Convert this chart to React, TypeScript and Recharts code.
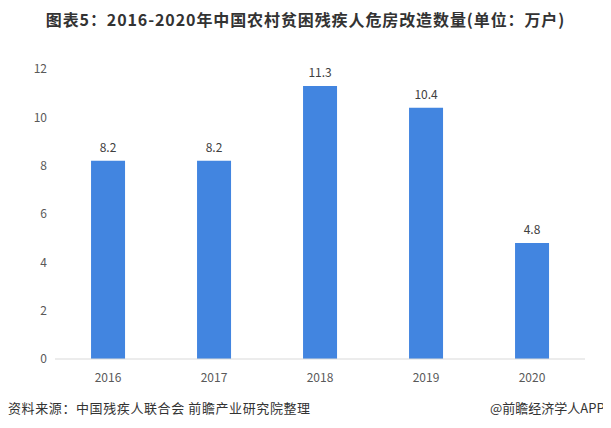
import { BarChart, Bar, XAxis, YAxis, LabelList } from "recharts";

const years = ["2016", "2017", "2018", "2019", "2020"];
const households = [8.2, 8.2, 11.3, 10.4, 4.8];
const yTicks = [0, 2, 4, 6, 8, 10, 12];

const data = years.map((year, i) => ({ year, value: households[i] }));

const FONT = '"Noto Sans CJK SC", "Noto Sans", sans-serif';

function App() {
  return (
    <div
      style={{
        position: "relative",
        width: 611,
        height: 428,
        margin: -8,
        background: "#fff",
        fontFamily: FONT,
        overflow: "hidden",
      }}
    >
      <div
        style={{
          position: "absolute",
          top: 7,
          left: 0,
          width: 611,
          textAlign: "center",
          fontSize: 16,
          fontWeight: "bold",
          letterSpacing: 0.9,
          color: "#333",
          whiteSpace: "nowrap",
        }}
      >
        图表5：2016-2020年中国农村贫困残疾人危房改造数量(单位：万户)
      </div>

      <BarChart
        width={611}
        height={428}
        data={data}
        margin={{ top: 69, right: 26, bottom: 41, left: 23 }}
        barCategoryGap="34%"
      >
        <XAxis
          dataKey="year"
          height={28}
          axisLine={{ stroke: "#d9d9d9" }}
          tickLine={false}
          tick={{ fill: "#595959", fontSize: 12 }}
          tickMargin={8}
        />
        <YAxis
          width={32}
          domain={[0, 12]}
          ticks={yTicks}
          axisLine={false}
          tickLine={false}
          tick={{ fill: "#595959", fontSize: 12 }}
        />
        <Bar dataKey="value" fill="#4285e0" isAnimationActive={false}>
          <LabelList
            dataKey="value"
            position="top"
            offset={9}
            style={{ fill: "#404040", fontSize: 12 }}
          />
        </Bar>
      </BarChart>

      <div
        style={{
          position: "absolute",
          top: 398,
          left: 8,
          fontSize: 13,
          letterSpacing: 0.6,
          color: "#333",
          whiteSpace: "nowrap",
        }}
      >
        资料来源：中国残疾人联合会 前瞻产业研究院整理
      </div>
      <div
        style={{
          position: "absolute",
          top: 398,
          left: 490,
          fontSize: 13,
          color: "#333",
          whiteSpace: "nowrap",
        }}
      >
        @前瞻经济学人APP
      </div>
    </div>
  );
}

export default App;
